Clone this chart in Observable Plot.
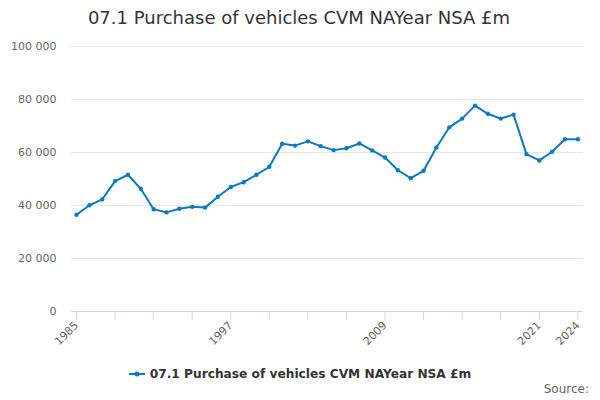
<!DOCTYPE html>
<html>
<head>
<meta charset="utf-8">
<script src="https://cdn.jsdelivr.net/npm/d3@7"></script>
<script src="https://cdn.jsdelivr.net/npm/@observablehq/plot@0.6"></script>
<style>
  html, body { margin: 0; padding: 0; background: #fff; }
  #wrap { position: relative; width: 600px; height: 400px; overflow: hidden; font-family: "DejaVu Sans", sans-serif; }
  #title { position: absolute; left: 0; top: 0; width: 598px; height: 36px; line-height: 36px; text-align: center; font-size: 18px; color: #333333; }
  #chart { position: absolute; left: 0; top: 36px; }
  #legend { position: absolute; left: 0; top: 359px; width: 600px; height: 30px; line-height: 30px; text-align: center; font-size: 12.2px; font-weight: bold; color: #333333; }
  #legend svg { vertical-align: middle; margin-right: 5px; position: relative; top: -1px; }
  #source { position: absolute; right: 11px; top: 382px; font-size: 12px; color: #666666; }
</style>
</head>
<body>
<div id="wrap">
  <div id="title">07.1 Purchase of vehicles CVM NAYear NSA £m</div>
  <div id="chart"></div>
  <div id="legend"><svg width="16" height="10"><line x1="0" y1="5" x2="16" y2="5" stroke="#0b79c3" stroke-width="2"/><circle cx="8" cy="5" r="2.5" fill="#0b79c3"/></svg>07.1 Purchase of vehicles CVM NAYear NSA £m</div>
  <div id="source">Source:</div>
</div>
<script>
const seriesName = "07.1 Purchase of vehicles CVM NAYear NSA £m";
const years = [1985,1986,1987,1988,1989,1990,1991,1992,1993,1994,1995,1996,1997,1998,1999,2000,2001,2002,2003,2004,2005,2006,2007,2008,2009,2010,2011,2012,2013,2014,2015,2016,2017,2018,2019,2020,2021,2022,2023,2024];
const values = [36500,40100,42300,49200,51600,46300,38600,37400,38800,39500,39200,43300,47000,48800,51600,54600,63300,62600,64200,62400,60900,61600,63400,60800,58100,53300,50300,53100,61900,69500,72800,77700,74600,72800,74300,59400,57000,60300,65000,65000];
const yTicks = [0,20000,40000,60000,80000,100000];
const xTicks = [1985,1988,1991,1994,1997,2000,2003,2006,2009,2012,2015,2018,2021,2024];
const xLabels = [1985,1997,2009,2021,2024];

const data = years.map((y, i) => ({year: y, value: values[i]}));
const color = "#0b79c3";
const fmt = d => d3.format(",")(d).replace(/,/g, " ");

const chart = Plot.plot({
  width: 600,
  height: 320,
  marginTop: 10,
  marginBottom: 45,
  marginLeft: 71,
  marginRight: 17,
  style: {fontFamily: "DejaVu Sans, sans-serif", fontSize: "11px", color: "#666666", background: "#fff"},
  x: {domain: [1984.61, 2024.44], label: null},
  y: {domain: [0, 100000], label: null},
  marks: [
    Plot.gridY(yTicks, {stroke: "#e6e6e6", strokeOpacity: 1}),
    Plot.ruleY([0], {stroke: "#ccd6eb", strokeWidth: 1}),
    Plot.axisY(yTicks, {tickSize: 0, tickPadding: 15, tickFormat: fmt, fill: "#666666", fontSize: 11, label: null}),
    Plot.axisX(xTicks, {tickSize: 9, stroke: "#ccd6eb", strokeOpacity: 1, tickRotate: -45, tickPadding: 3, fill: "#666666", fontSize: 11, label: null,
      tickFormat: d => xLabels.includes(d) ? String(d) : ""}),
    Plot.line(data, {x: "year", y: "value", stroke: color, strokeWidth: 2}),
    Plot.dot(data, {x: "year", y: "value", fill: color, r: 2.2})
  ]
});
document.getElementById("chart").appendChild(chart);
</script>
</body>
</html>
